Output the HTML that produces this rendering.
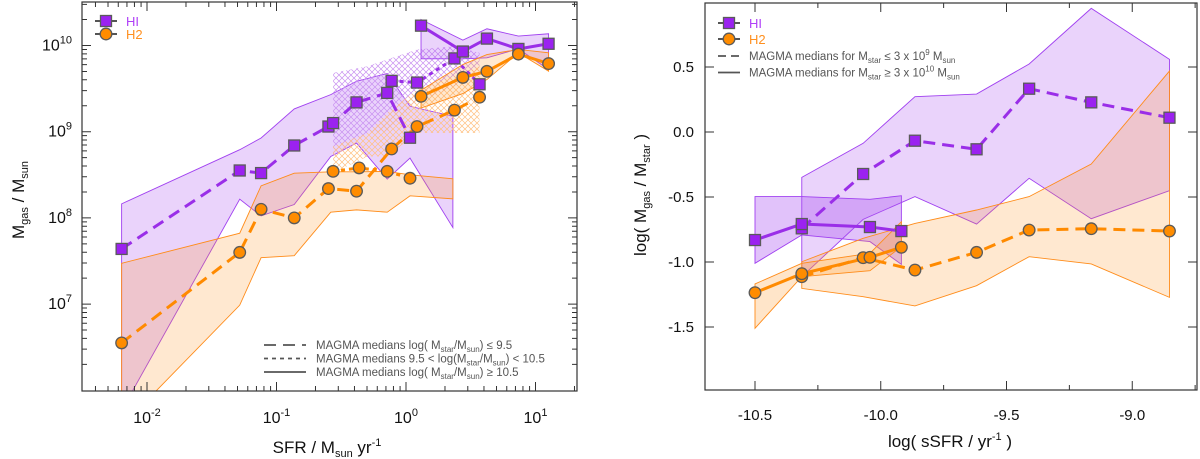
<!DOCTYPE html>
<html><head><meta charset="utf-8">
<style>
html,body{margin:0;padding:0;background:#fff;}
svg{display:block;font-family:"Liberation Sans",sans-serif;}
</style></head>
<body>
<svg id="chart" width="1200" height="459" viewBox="0 0 1200 459" xmlns="http://www.w3.org/2000/svg">
<defs>
<pattern id="hatchP" width="6" height="6" patternUnits="userSpaceOnUse"><path d="M0,0L6,6M6,0L0,6" stroke="#c890f0" stroke-width="0.7"/></pattern>
<pattern id="hatchO" width="6" height="6" patternUnits="userSpaceOnUse"><path d="M0,0L6,6M6,0L0,6" stroke="#ffc080" stroke-width="0.7"/></pattern>
<clipPath id="clipL"><rect x="82" y="2" width="495" height="389"/></clipPath>
<clipPath id="clipR"><rect x="705" y="3" width="492" height="387"/></clipPath>
</defs>
<g id="left"></g>
<g id="right"></g>
</svg>
<script>
// ===== Left panel data (log10 SFR, log10 Mgas) =====
const hiLowX = [-2.196,-1.284,-1.119,-0.863,-0.599,-0.563,-0.382,-0.145,0.031];
const hiLowY = [7.64,8.55,8.52,8.84,9.06,9.10,9.34,9.45,8.93];
const hiMidX = [-0.111,0.085,0.374,0.568];
const hiMidY = [9.59,9.57,9.85,9.55];
const hiHighX = [0.116,0.439,0.625,0.868,1.101];
const hiHighY = [10.23,9.93,10.08,9.96,10.02];
const h2LowX = [-2.196,-1.284,-1.119,-0.863,-0.599,-0.382,-0.111,0.085,0.374,0.568];
const h2LowY = [6.55,7.60,8.10,8.00,8.34,8.31,8.80,9.06,9.25,9.40];
const h2MidX = [-0.563,-0.362,-0.145,0.031];
const h2MidY = [8.54,8.58,8.54,8.46];
const h2HighX = [0.116,0.439,0.625,0.868,1.101];
const h2HighY = [9.41,9.63,9.70,9.90,9.79];
const bandLowX = [-2.196,-1.284,-1.119,-0.863,-0.581,-0.382,-0.145,0.031,0.362];
const hiLowUp = [8.163,8.791,8.927,9.264,9.43,9.585,9.675,9.295,9.178];
const hiLowDn = [5.767,8.217,8.023,8.155,8.713,8.868,8.450,8.694,7.888];
const h2LowUp = [7.473,7.822,8.372,8.519,8.535,8.535,8.539,8.500,8.454];
const h2LowDn = [5.582,6.988,7.539,7.562,8.066,8.093,8.066,8.256,8.221];
const bandMidX = [-0.563,-0.297,-0.145,0.085,0.374,0.568];
const hiMidUp = [9.682,9.760,9.837,9.954,9.992,9.915];
const hiMidDn = [8.713,8.985,9.004,9.333,9.527,9.643];
const h2MidUp = [8.830,8.985,9.217,9.488,9.643,9.760];
const h2MidDn = [8.519,8.713,8.713,8.985,8.985,8.985];
const hiHighUp = [10.302,10.062,10.194,10.109,10.136];
const hiHighDn = [9.845,9.845,9.857,9.961,9.721];
const h2HighUp = [9.481,9.779,9.895,9.954,9.915];
const h2HighDn = [9.275,9.442,9.605,9.915,9.702];
const leftXTicks = [-2,-1,0,1];
const leftYTicks = [7,8,9,10];
// ===== Right panel data (log sSFR, log Mgas/Mstar) =====
const rHiDashX = [-10.314,-10.070,-9.864,-9.619,-9.410,-9.163,-8.852];
const rHiDashY = [-0.741,-0.323,-0.067,-0.133,0.333,0.228,0.110];
const rHiSolX = [-10.500,-10.314,-10.043,-9.918];
const rHiSolY = [-0.831,-0.708,-0.731,-0.762];
const rH2DashY = [-1.113,-0.967,-1.062,-0.926,-0.754,-0.744,-0.762];
const rH2SolY = [-1.236,-1.090,-0.964,-0.887];
const rHiDashUp = [-0.349,-0.087,0.272,0.292,0.523,0.951,0.559];
const rHiDashDn = [-1.113,-0.672,-0.497,-0.708,-0.356,-0.667,-0.451];
const rHiSolUp = [-0.497,-0.497,-0.518,-0.490];
const rHiSolDn = [-1.010,-0.792,-0.843,-1.018];
const rH2DashUp = [-0.998,-0.818,-0.703,-0.600,-0.497,-0.246,0.469];
const rH2DashDn = [-1.203,-1.267,-1.338,-1.182,-0.959,-1.015,-1.272];
const rH2SolUp = [-1.169,-1.010,-0.933,-0.690];
const rH2SolDn = [-1.510,-1.113,-1.067,-0.882];
const rXTicks = [-10.5,-10.0,-9.5,-9.0];
const rYTicks = [-1.5,-1.0,-0.5,0.0,0.5];

const NS="http://www.w3.org/2000/svg";
function mk(parent,tag,attrs){const e=document.createElementNS(NS,tag);for(const k in attrs)e.setAttribute(k,attrs[k]);parent.appendChild(e);return e;}
const PURPLE="#9a2ee8", ORANGE="#ff8a00";
const lx=v=>147+(v+2)*129.5, ly=v=>45.5+(10-v)*86.2;
const rx=v=>755+(v+10.5)*251.5, ry=v=>132+(0-v)*130;

function band(g,xs,up,dn,X,Y,fill,stroke,name){
  const pts=xs.map((x,i)=>X(x)+","+Y(up[i])).concat(xs.map((x,i)=>X(x)+","+Y(dn[i])).reverse());
  const p=mk(g,"polygon",{points:pts.join(" "),fill:fill,stroke:stroke,"stroke-width":stroke==="none"?0:0.9});
  
  
}
function line(g,xs,ys,X,Y,color,dash,name){
  const p=mk(g,"polyline",{points:xs.map((x,i)=>X(x)+","+Y(ys[i])).join(" "),fill:"none",stroke:color,"stroke-width":3,"stroke-dasharray":dash});
  
  
}
function markers(g,xs,ys,X,Y,kind,name){
  xs.forEach((x,i)=>{
    let m;
    if(kind==="sq") m=mk(g,"rect",{x:X(x)-5.5,y:Y(ys[i])-5.5,width:11,height:11,fill:"#9b22f0",stroke:"#5a5a5a","stroke-width":1.3});
    else m=mk(g,"circle",{cx:X(x),cy:Y(ys[i]),r:5.8,fill:"#ff8c00",stroke:"#5a5a5a","stroke-width":1.3});
    
    
  });
}
function text(g,x,y,html,size,anchor,name,extra){
  const t=mk(g,"text",Object.assign({x:x,y:y,"font-size":size,"text-anchor":anchor||"middle",fill:"#111"},extra||{}));
  t.innerHTML=html;
  
  
  return t;
}

// ---------- LEFT PANEL ----------
const L=document.getElementById("left");
const Lp=mk(L,"g",{"clip-path":"url(#clipL)"});
band(Lp,bandLowX,hiLowUp,hiLowDn,lx,ly,"rgba(170,80,240,0.25)","#a040f0","hi-low-mass-band");
band(Lp,bandLowX,h2LowUp,h2LowDn,lx,ly,"rgba(255,150,40,0.22)","#ff8c1a","h2-low-mass-band");
band(Lp,bandMidX,hiMidUp,hiMidDn,lx,ly,"url(#hatchP)","none","hi-mid-mass-band");
band(Lp,bandMidX,h2MidUp,h2MidDn,lx,ly,"url(#hatchO)","none","h2-mid-mass-band");
band(Lp,hiHighX,hiHighUp,hiHighDn,lx,ly,"rgba(170,80,240,0.25)","#a040f0","hi-high-mass-band");
band(Lp,h2HighX,h2HighUp,h2HighDn,lx,ly,"rgba(255,150,40,0.22)","#ff8c1a","h2-high-mass-band");
line(Lp,hiLowX,hiLowY,lx,ly,PURPLE,"12,7","hi-low-mass-line");
line(Lp,hiMidX,hiMidY,lx,ly,PURPLE,"4,4","hi-mid-mass-line");
line(Lp,hiHighX,hiHighY,lx,ly,PURPLE,"none","hi-high-mass-line");
line(Lp,h2LowX,h2LowY,lx,ly,ORANGE,"12,7","h2-low-mass-line");
line(Lp,h2MidX,h2MidY,lx,ly,ORANGE,"4,4","h2-mid-mass-line");
line(Lp,h2HighX,h2HighY,lx,ly,ORANGE,"none","h2-high-mass-line");
markers(Lp,hiLowX,hiLowY,lx,ly,"sq","hi-low-marker");
markers(Lp,hiMidX,hiMidY,lx,ly,"sq","hi-mid-marker");
markers(Lp,hiHighX,hiHighY,lx,ly,"sq","hi-high-marker");
markers(Lp,h2LowX,h2LowY,lx,ly,"ci","h2-low-marker");
markers(Lp,h2MidX,h2MidY,lx,ly,"ci","h2-mid-marker");
markers(Lp,h2HighX,h2HighY,lx,ly,"ci","h2-high-marker");
// frame and ticks
const fL=mk(L,"rect",{x:82,y:2,width:495,height:389,fill:"none",stroke:"#333","stroke-width":1.2});


let tk="";
for(let d=-3;d<=1;d++)for(let k=1;k<10;k++){const v=d+Math.log10(k);const x=lx(v);if(x<83||x>576)continue;const len=k===1?9:5;tk+=`M${x},391v-${len}M${x},2v${len}`;}
for(let d=6;d<=10;d++)for(let k=1;k<10;k++){const v=d+Math.log10(k);const y=ly(v);if(y<3||y>390)continue;const len=k===1?9:5;tk+=`M82,${y}h${len}M577,${y}h-${len}`;}
const tL=mk(L,"path",{d:tk,stroke:"#333","stroke-width":1,fill:"none"});


leftXTicks.forEach(v=>text(L,lx(v),423,`10<tspan dy="-7" font-size="11">${v}</tspan>`,16,"middle","x-tick-label"));
leftYTicks.forEach(v=>text(L,72,ly(v)+5,`10<tspan dy="-7" font-size="11">${v}</tspan>`,16,"end","y-tick-label"));
text(L,327,453,`SFR / M<tspan dy="4" font-size="11">sun</tspan><tspan dy="-4"> yr</tspan><tspan dy="-7" font-size="11">-1</tspan>`,17,"middle","x-axis-title");
text(L,0,0,`M<tspan dy="4" font-size="11">gas</tspan><tspan dy="-4"> / M</tspan><tspan dy="4" font-size="11">sun</tspan>`,17,"middle","y-axis-title",{transform:"translate(24,200) rotate(-90)"});
// legend
function legendMarker(g,x,y,kind,name){
  const lg=mk(g,"g",{});
  
  
  mk(lg,"line",{x1:x-11,y1:y,x2:x+11,y2:y,stroke:"#555","stroke-width":2});
  if(kind==="sq") mk(lg,"rect",{x:x-5.5,y:y-5.5,width:11,height:11,fill:"#9b22f0",stroke:"#5a5a5a","stroke-width":1.3});
  else mk(lg,"circle",{cx:x,cy:y,r:5.8,fill:"#ff8c00",stroke:"#5a5a5a","stroke-width":1.3});
}
legendMarker(L,106,21,"sq","legend-hi-marker");
legendMarker(L,106,34,"ci","legend-h2-marker");
text(L,126,26,"HI",13,"start","legend-hi-label",{fill:"#b040f8"});
text(L,126,39,"H2",13,"start","legend-h2-label",{fill:"#ff9020"});
const legL=[["12,7","MAGMA medians log( M<tspan dy='3' font-size='8'>star</tspan><tspan dy='-3'>/M</tspan><tspan dy='3' font-size='8'>sun</tspan><tspan dy='-3'>) ≤ 9.5</tspan>"],
["4,4","MAGMA medians 9.5 &lt; log(M<tspan dy='3' font-size='8'>star</tspan><tspan dy='-3'>/M</tspan><tspan dy='3' font-size='8'>sun</tspan><tspan dy='-3'>) &lt; 10.5</tspan>"],
["none","MAGMA medians log( M<tspan dy='3' font-size='8'>star</tspan><tspan dy='-3'>/M</tspan><tspan dy='3' font-size='8'>sun</tspan><tspan dy='-3'>) ≥ 10.5</tspan>"]];
legL.forEach((r,i)=>{const y=345+i*13.5;
  const ln=mk(L,"line",{x1:264,y1:y,x2:306,y2:y,stroke:"#555","stroke-width":1.8,"stroke-dasharray":r[0]});
  
  
  text(L,316,y+4,r[1],11.5,"start","legend-style-label",{fill:"#555"});});

// ---------- RIGHT PANEL ----------
const R=document.getElementById("right");
const Rp=mk(R,"g",{"clip-path":"url(#clipR)"});
band(Rp,rHiDashX,rHiDashUp,rHiDashDn,rx,ry,"rgba(170,80,240,0.25)","#a040f0","r-hi-low-mass-band");
band(Rp,rHiSolX,rHiSolUp,rHiSolDn,rx,ry,"rgba(170,80,240,0.35)","#a040f0","r-hi-high-mass-band");
band(Rp,rHiDashX,rH2DashUp,rH2DashDn,rx,ry,"rgba(255,150,40,0.22)","#ff8c1a","r-h2-low-mass-band");
band(Rp,rHiSolX,rH2SolUp,rH2SolDn,rx,ry,"rgba(255,150,40,0.25)","#ff8c1a","r-h2-high-mass-band");
line(Rp,rHiDashX,rHiDashY,rx,ry,PURPLE,"12,7","r-hi-low-mass-line");
line(Rp,rHiSolX,rHiSolY,rx,ry,PURPLE,"none","r-hi-high-mass-line");
line(Rp,rHiDashX,rH2DashY,rx,ry,ORANGE,"12,7","r-h2-low-mass-line");
line(Rp,rHiSolX,rH2SolY,rx,ry,ORANGE,"none","r-h2-high-mass-line");
markers(Rp,rHiDashX,rHiDashY,rx,ry,"sq","r-hi-low-marker");
markers(Rp,rHiSolX,rHiSolY,rx,ry,"sq","r-hi-high-marker");
markers(Rp,rHiDashX,rH2DashY,rx,ry,"ci","r-h2-low-marker");
markers(Rp,rHiSolX,rH2SolY,rx,ry,"ci","r-h2-high-marker");
const fR=mk(R,"rect",{x:705,y:3,width:492,height:387,fill:"none",stroke:"#333","stroke-width":1.2});


let tr="";
for(let v=-10.75;v<=-8.7;v+=0.25){const x=rx(v);if(x<706||x>1196)continue;const len=Math.abs(v*2-Math.round(v*2))<1e-6?9:5;tr+=`M${x},390v-${len}M${x},3v${len}`;}
rYTicks.forEach(v=>{const y=ry(v);tr+=`M705,${y}h9M1197,${y}h-9`;});
const tR=mk(R,"path",{d:tr,stroke:"#333","stroke-width":1,fill:"none"});


rXTicks.forEach(v=>text(R,rx(v),420,v.toFixed(1),15,"middle","r-x-tick-label"));
rYTicks.forEach(v=>text(R,694,ry(v)+5,v.toFixed(1),15,"end","r-y-tick-label"));
text(R,950,447,`log( sSFR / yr<tspan dy="-7" font-size="11">-1</tspan><tspan dy="7"> )</tspan>`,17,"middle","r-x-axis-title");
text(R,0,0,`log( M<tspan dy="4" font-size="11">gas</tspan><tspan dy="-4"> / M</tspan><tspan dy="4" font-size="11">star</tspan><tspan dy="-4"> )</tspan>`,17,"middle","r-y-axis-title",{transform:"translate(646,195) rotate(-90)"});
legendMarker(R,729,23,"sq","r-legend-hi-marker");
legendMarker(R,729,39,"ci","r-legend-h2-marker");
text(R,749,28,"HI",13,"start","r-legend-hi-label",{fill:"#b040f8"});
text(R,749,44,"H2",13,"start","r-legend-h2-label",{fill:"#ff9020"});
const legR=[["8,5","MAGMA medians for M<tspan dy='3' font-size='8'>star</tspan><tspan dy='-3'> ≤ 3 x 10</tspan><tspan dy='-5' font-size='8'>9</tspan><tspan dy='5'> M</tspan><tspan dy='3' font-size='8'>sun</tspan>"],
["none","MAGMA medians for M<tspan dy='3' font-size='8'>star</tspan><tspan dy='-3'> ≥ 3 x 10</tspan><tspan dy='-5' font-size='8'>10</tspan><tspan dy='5'> M</tspan><tspan dy='3' font-size='8'>sun</tspan>"]];
legR.forEach((r,i)=>{const y=56+i*16.5;
  const ln=mk(R,"line",{x1:718,y1:y,x2:740,y2:y,stroke:"#555","stroke-width":1.8,"stroke-dasharray":r[0]});
  
  
  text(R,749,y+4,r[1],11.5,"start","r-legend-style-label",{fill:"#555"});});
</script>
</body></html>
